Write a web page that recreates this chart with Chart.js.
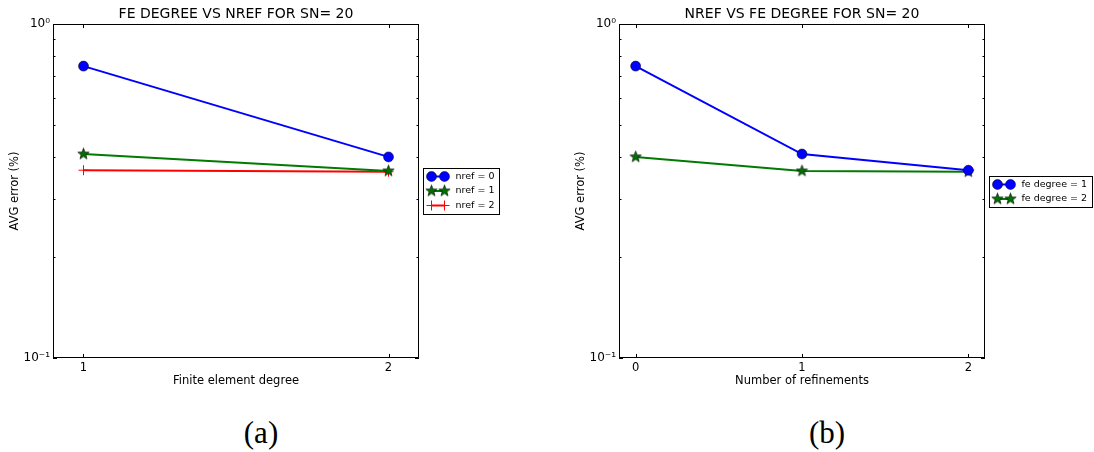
<!DOCTYPE html>
<html>
<head>
<meta charset="utf-8">
<script src="https://cdn.jsdelivr.net/npm/chart.js@4/dist/chart.umd.min.js"></script>
<style>
  body { margin: 0; background: #fff; }
  #wrap { position: relative; width: 1094px; height: 452px; }
  canvas { position: absolute; top: 0; }
  .cap { position: absolute; top: 413px; width: 100px; text-align: center;
         font: 31px "Liberation Serif", serif; line-height: 40px; color: #000; }
</style>
</head>
<body>
<div id="wrap">
  <canvas id="chartA" width="547" height="400" style="left:0"></canvas>
  <canvas id="chartB" width="547" height="400" style="left:547px"></canvas>
  <div class="cap" style="left:211px">(a)</div>
  <div class="cap" style="left:777px">(b)</div>
</div>
<script>
// data (AVG error, log axis)
const feDegrees = [1, 2];
const nrefs = [0, 1, 2];

const errNref0 = [0.748, 0.400];
const errNref1 = [0.408, 0.363];
const errNref2 = [0.365, 0.361];

const errFe1 = [0.748, 0.408, 0.365];
const errFe2 = [0.400, 0.363, 0.361];

const yTicks = [0.1, 0.2, 0.3, 0.4, 0.5, 0.6, 0.7, 0.8, 0.9, 1];
const yTickLabels = ["10⁻¹", "", "", "", "", "", "", "", "", "10⁰"];

Chart.defaults.font.family = "'DejaVu Sans', sans-serif";
Chart.defaults.color = "#000";

// filled star marker like matplotlib '*'
function makeStar(r, fill) {
  const c = document.createElement("canvas");
  const s = Math.ceil(r * 2 + 3);
  c.width = s; c.height = s;
  const g = c.getContext("2d");
  g.beginPath();
  for (let i = 0; i < 10; i++) {
    const rad = i % 2 === 0 ? r : r * 0.42;
    const a = -Math.PI / 2 + i * Math.PI / 5;
    const px = s / 2 + rad * Math.cos(a), py = s / 2 + rad * Math.sin(a);
    if (i === 0) g.moveTo(px, py); else g.lineTo(px, py);
  }
  g.closePath();
  g.fillStyle = fill;
  g.fill();
  g.lineWidth = 0.6;
  g.strokeStyle = "#000";
  g.stroke();
  return c;
}
const star = makeStar(6, "#007000");

function series(label, xs, ys, color, style) {
  const ds = {
    label,
    data: xs.map((x, i) => ({ x, y: ys[i] })),
    borderColor: color,
    borderWidth: 2,
    pointStyle: style,
    pointRadius: 5,
    pointHoverRadius: 5,
    pointBackgroundColor: color,
    pointBorderColor: "#000",
    pointBorderWidth: 0.5
  };
  if (style === "cross") {
    ds.pointBorderColor = color;
    ds.pointBorderWidth = 1;
  }
  return ds;
}

// frame, inward ticks on all four sides, and matplotlib-ish legend
const framePlugin = {
  id: "frame",
  afterDraw(chart) {
    const ctx = chart.ctx;
    const a = chart.chartArea;
    const xs = chart.scales.x, ys = chart.scales.y;
    ctx.save();
    ctx.strokeStyle = "#000";
    ctx.lineWidth = 1;
    ctx.strokeRect(Math.round(a.left) + 0.5, Math.round(a.top) + 0.5,
      Math.round(a.right - a.left) - 1, Math.round(a.bottom - a.top) - 1);

    ctx.beginPath();
    xs.ticks.forEach(t => {
      const px = Math.round(xs.getPixelForValue(t.value)) + 0.5;
      ctx.moveTo(px, a.bottom); ctx.lineTo(px, a.bottom - 4);
      ctx.moveTo(px, a.top); ctx.lineTo(px, a.top + 4);
    });
    ys.ticks.forEach((t, i) => {
      const len = yTickLabels[i] ? 4 : 2.5;
      const py = Math.round(ys.getPixelForValue(t.value)) + 0.5;
      ctx.moveTo(a.left, py); ctx.lineTo(a.left + len, py);
      ctx.moveTo(a.right, py); ctx.lineTo(a.right - len, py);
    });
    ctx.stroke();

    // legend
    const sets = chart.data.datasets;
    ctx.font = "9.5px 'DejaVu Sans', sans-serif";
    const tw = Math.max(...sets.map(d => ctx.measureText(d.label).width));
    const bx = Math.round(a.right) + 4.5;
    const bw = Math.round(32 + tw + 5);
    const bh = Math.round(sets.length * 14.5 + 2);
    const by = Math.round((a.top + a.bottom) / 2 - bh / 2) + 0.5;
    ctx.fillStyle = "#fff";
    ctx.fillRect(bx, by, bw, bh);
    ctx.strokeStyle = "#000";
    ctx.lineWidth = 1;
    ctx.strokeRect(bx, by, bw, bh);
    sets.forEach((d, i) => {
      const cy = by + 8 + i * 14.5;
      ctx.strokeStyle = d.borderColor;
      ctx.lineWidth = 2;
      ctx.beginPath();
      ctx.moveTo(bx + 8, cy); ctx.lineTo(bx + 21, cy);
      ctx.stroke();
      [bx + 8, bx + 21].forEach(mx => {
        ctx.fillStyle = d.pointBackgroundColor;
        ctx.strokeStyle = d.pointBorderColor;
        ctx.lineWidth = d.pointBorderWidth;
        Chart.helpers.drawPoint(ctx, {
          pointStyle: d.pointStyle, radius: 5, rotation: 0, borderWidth: d.pointBorderWidth
        }, mx, cy);
      });
      ctx.fillStyle = "#000";
      ctx.textBaseline = "middle";
      ctx.textAlign = "left";
      ctx.fillText(d.label, bx + 32, cy);
    });
    ctx.restore();
  }
};

function makeChart(id, title, xLabel, xTicks, xMin, xMax, datasets, padLeft, padRight) {
  new Chart(document.getElementById(id), {
    type: "line",
    data: { datasets },
    options: {
      responsive: false,
      animation: false,
      devicePixelRatio: 1,
      layout: { padding: { left: padLeft, right: padRight, top: 0, bottom: 12 } },
      plugins: {
        legend: { display: false },
        tooltip: { enabled: false },
        title: {
          display: true,
          text: title,
          fullSize: false,
          font: { size: 14, weight: "normal" },
          padding: { top: 6, bottom: 1.2 },
          color: "#000"
        }
      },
      scales: {
        x: {
          type: "linear",
          min: xMin,
          max: xMax,
          afterBuildTicks: s => { s.ticks = xTicks.map(v => ({ value: v })); },
          afterFit: s => { s.height = 30; },
          grid: { display: false, drawTicks: false },
          border: { display: false },
          ticks: { padding: 3, font: { size: 11.5 }, autoSkip: false, callback: v => String(v) },
          title: { display: true, text: xLabel, font: { size: 11.5 }, padding: 0 }
        },
        y: {
          type: "logarithmic",
          min: 0.1,
          max: 1,
          afterBuildTicks: s => { s.ticks = yTicks.map(v => ({ value: v })); },
          afterFit: s => { s.width = 53; },
          grid: { display: false, drawTicks: false },
          border: { display: false },
          ticks: { padding: 3, font: { size: 12 }, autoSkip: false, callback: (v, i) => yTickLabels[i] },
          title: { display: true, text: "AVG error (%)", font: { size: 11.5 }, padding: { top: 8, bottom: 0 } }
        }
      }
    },
    plugins: [framePlugin]
  });
}

makeChart("chartA", "FE DEGREE VS NREF FOR SN= 20", "Finite element degree", feDegrees, 0.9, 2.1, [
  series("nref = 0", feDegrees, errNref0, "#0000ff", "circle"),
  series("nref = 1", feDegrees, errNref1, "#007a00", star),
  series("nref = 2", feDegrees, errNref2, "#ff0000", "cross")
], 0, 128);

makeChart("chartB", "NREF VS FE DEGREE FOR SN= 20", "Number of refinements", nrefs, -0.1, 2.1, [
  series("fe degree = 1", nrefs, errFe1, "#0000ff", "circle"),
  series("fe degree = 2", nrefs, errFe2, "#007a00", star)
], 19, 109);
</script>
</body>
</html>
